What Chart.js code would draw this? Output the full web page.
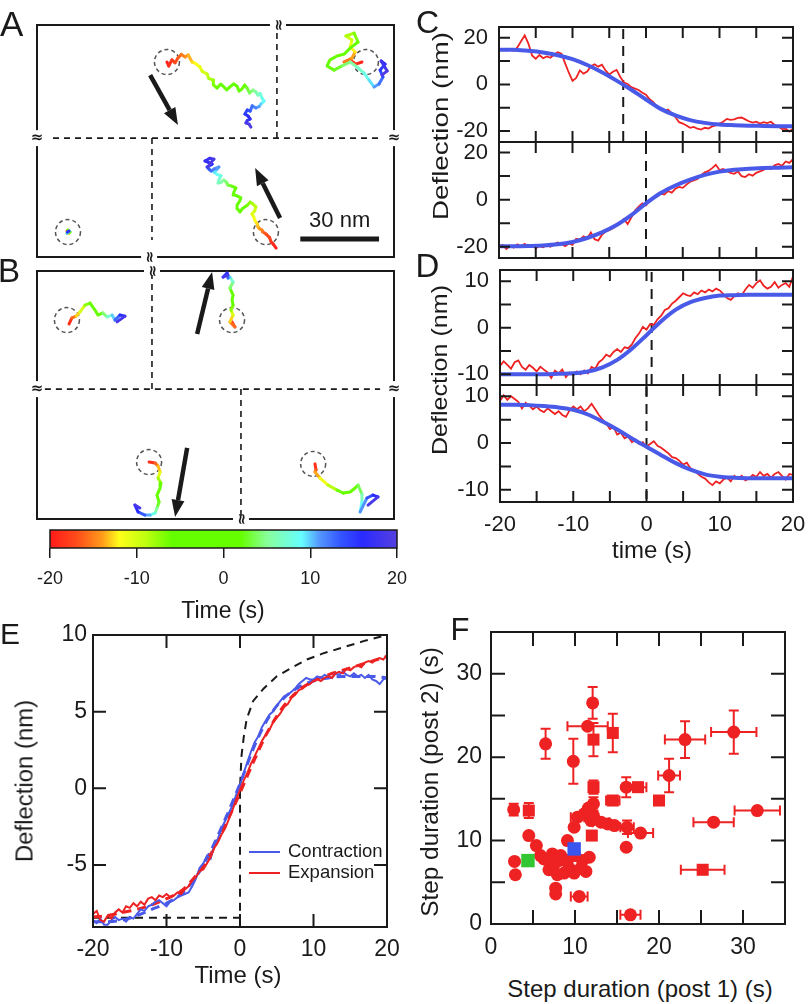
<!DOCTYPE html>
<html>
<head>
<meta charset="utf-8">
<script src="https://cdn.jsdelivr.net/npm/chart.js@4.4.1/dist/chart.umd.min.js"></script>
<style>
  body { margin: 0; background: #fff; }
  #fig { position: relative; width: 809px; height: 1004px; overflow: hidden; }
  #fig canvas { position: absolute; }
</style>
</head>
<body>
<div id="fig"></div>
<script>
// ---- colour scale (time, s) ----
const cbTimes = [-20, -17, -14, -12, -9, -6, 2, 5, 9, 11, 13.5, 16, 20];
const cbColors = ['#ff1a1a', '#ff4a1a', '#ff9a1a', '#ffff1a', '#c0ff10', '#66ff00', '#66ff00', '#88ff99', '#66ffff', '#5599ff', '#3355ff', '#2a2aff', '#5540e0'];
const cbTicks = [-20, -10, 0, 10, 20];

// ---- A / B: bead trajectories (nm) ----
const trajA1 = [[49.5,74.3],[50.2,72.8],[51.4,75.1],[52.6,74.0],[53.7,75.8],[55.0,77.2],[56.4,76.2],[57.6,77.0],[59.1,74.3],[60.2,73.9],[62.1,72.4],[62.9,70.8],[64.8,69.7],[65.4,68.1],[67.1,67.4],[67.2,65.6],[68.6,64.4],[70.0,65.9],[71.2,64.8],[72.3,63.7],[73.5,64.8],[74.9,66.0],[76.2,65.1],[77.0,63.2],[78.1,64.0],[79.1,65.5],[80.0,64.4],[81.0,62.5],[82.3,63.6],[83.4,62.9],[84.2,61.7],[85.0,62.3],[85.7,60.6],[86.5,59.4],[85.3,58.3],[84.6,57.3],[83.4,56.8],[82.0,57.6],[81.2,55.6],[80.1,56.0],[79.2,54.5],[80.4,53.7],[81.2,52.6],[80.1,52.0],[79.6,51.1],[80.8,50.6],[81.5,49.5]];
const trajA2 = [[123.8,74.3],[121.5,73.5],[119.3,75.1],[117.0,74.3],[120.0,75.8],[121.2,78.1],[119.3,80.0],[120.0,82.7],[117.7,84.2],[120.8,85.3],[122.3,81.9],[119.3,79.6],[117.0,77.3],[114.3,76.6],[111.6,75.1],[110.5,72.8],[113.2,71.2],[116.2,72.8],[119.3,74.3],[121.9,72.4],[124.6,70.1],[126.5,67.4],[128.4,64.8],[130.3,65.9],[131.8,68.6],[130.7,71.2],[132.6,73.5],[131.1,74.7],[133.4,70.9],[131.4,69.3]];
const trajA3 = [[11.4,9.9],[12.2,9.1],[11.8,10.3],[12.6,9.5],[11.4,9.1],[12.2,9.9],[11.6,9.5]];
const trajA4 = [[91.1,3.4],[90.0,4.9],[89.2,5.7],[88.6,7.4],[87.2,8.8],[86.0,9.6],[85.7,10.3],[84.9,10.7],[84.2,11.4],[83.9,12.6],[83.1,13.7],[82.6,15.2],[81.9,16.4],[82.9,17.5],[83.4,19.1],[82.0,20.4],[81.2,20.9],[80.1,19.7],[79.2,19.1],[78.3,18.5],[77.3,17.1],[76.5,18.3],[76.2,19.8],[77.1,21.1],[77.7,22.5],[76.0,23.4],[74.7,23.6],[75.1,25.0],[75.8,26.3],[74.2,27.0],[72.8,27.4],[72.0,28.6],[71.2,29.3],[70.0,28.4],[69.0,28.2],[69.4,29.7],[70.1,30.9],[68.6,31.5],[67.4,32.4],[68.5,33.3],[69.3,34.3],[67.6,33.6],[66.3,32.8],[65.5,33.5],[64.8,34.3],[66.0,35.0],[66.7,35.4],[65.2,36.1],[64.0,36.6],[65.8,37.6],[67.4,37.3],[66.1,35.8],[65.2,34.3]];
const trajB1 = [[12.2,74.3],[13.3,76.6],[14.9,77.3],[16.4,78.9],[18.3,81.5],[20.2,82.3],[22.1,79.6],[23.2,77.7],[25.1,78.5],[26.7,77.0],[28.6,77.7],[29.7,75.8],[31.6,77.7],[33.5,77.3],[30.5,75.1]];
const trajB2 = [[74.3,75.1],[75.4,73.2],[73.5,75.1],[74.7,77.7],[73.9,79.6],[74.7,81.5],[74.3,83.4],[74.7,85.3],[73.5,88.0],[74.7,90.3],[73.5,92.2],[72.8,91.8],[72.4,93.7],[70.9,92.2],[72.8,93.0]];
const trajB3 = [[42.7,21.7],[45.0,21.3],[46.1,20.2],[46.9,17.9],[46.1,15.6],[47.2,13.7],[46.9,11.8],[45.7,9.1],[46.5,6.5],[45.7,4.2],[45.0,2.3],[43.1,1.5],[41.1,1.5],[38.5,2.7],[37.3,5.3],[39.2,4.2]];
const trajB4 = [[105.9,21.0],[106.3,18.7],[105.9,17.9],[107.8,15.6],[110.9,12.9],[114.3,11.0],[116.6,9.9],[119.3,10.3],[121.2,11.8],[122.3,12.9],[123.8,9.5],[123.8,6.5],[123.1,2.7],[125.7,8.0],[128.0,9.1],[129.9,8.4],[126.1,5.3]];

const aDividers = [[6.1,45.3,131.8,45.3],[91.4,45.3,91.4,86.5],[43.8,45.3,43.8,6.5]];
const aCircles = [[49.5,74.3],[125.3,74.3],[11.8,9.5],[87.2,9.5]];
const aArrows = [[43.1,69.3,53.7,50.3],[92.6,14.9,83.1,33.9]];
const aBreaks = {top: 91.8, bottom: 42.7, side: 45.3};
const scaleBarEnd = [130.3, 6.9];
const scaleBarNm = 30;
const bDividers = [[3.0,49.5,130.7,49.5],[43.8,49.5,43.8,93.0],[77.7,49.5,77.7,0.8]];
const bCircles = [[11.4,75.8],[74.3,75.8],[42.7,21.7],[105.2,21.0]];
const bArrows = [[61.0,70.5,66.7,94.1],[57.2,27.1,52.6,0.8]];
const bBreaks = {top: 43.8, bottom: 77.7, side: 49.5};

// ---- C / D: deflection traces (nm) sampled every 0.5 s ----
const tGrid = [-20,-19.5,-19,-18.5,-18,-17.5,-17,-16.5,-16,-15.5,-15,-14.5,-14,-13.5,-13,-12.5,-12,-11.5,-11,-10.5,-10,-9.5,-9,-8.5,-8,-7.5,-7,-6.5,-6,-5.5,-5,-4.5,-4,-3.5,-3,-2.5,-2,-1.5,-1,-0.5,0,0.5,1,1.5,2,2.5,3,3.5,4,4.5,5,5.5,6,6.5,7,7.5,8,8.5,9,9.5,10,10.5,11,11.5,12,12.5,13,13.5,14,14.5,15,15.5,16,16.5,17,17.5,18,18.5,19,19.5,20];
const fitT = [-20,-18,-16,-14,-12,-10,-8,-6,-4,-2,0,2,4,6,8,10,12,14,16,18,20];

const c1Trace = [14.6,15.2,14.5,15.0,14.4,15.8,18.5,21.0,17.5,12.4,
  11.0,12.6,11.2,12.0,11.4,12.8,13.8,13.2,9.0,5.0,
  1.5,2.8,6.0,4.6,5.5,7.8,8.6,7.6,8.4,6.0,
  4.2,5.4,6.2,3.2,0.8,0.2,-1.2,-1.8,-2.4,-3.6,
  -4.4,-6.4,-7.6,-9.6,-10.4,-11.4,-10.8,-12.4,-14.0,-16.2,
  -16.8,-17.6,-18.6,-18.2,-19.0,-19.4,-18.6,-18.9,-18.0,-17.6,
  -16.8,-16.0,-14.8,-15.2,-15.0,-14.4,-14.2,-15.0,-15.8,-16.4,
  -16.0,-16.8,-16.2,-16.6,-16.0,-17.4,-18.0,-19.2,-19.0,-20.2,
  -19.0];
const c1Fit = [14.9,14.8,14.4,13.7,12.5,10.8,8.3,5.2,1.6,-2.3,-6.5,-10.5,-13.3,-15.3,-16.5,-17.2,-17.5,-17.7,-17.8,-17.9,-18.0];
const c1Step = -3.1;

const c2Trace = [-20.2,-19.2,-21.0,-19.6,-20.4,-19.0,-19.8,-18.8,-20.0,-19.4,
  -20.6,-19.8,-20.2,-19.4,-20.0,-19.0,-18.2,-18.8,-19.8,-18.6,
  -19.2,-16.6,-17.0,-15.6,-16.4,-14.0,-16.8,-17.4,-15.0,-13.6,
  -13.0,-12.2,-11.0,-10.2,-8.2,-10.4,-7.6,-4.6,-3.0,-1.6,
  -2.4,-0.4,0.8,1.4,2.6,2.2,3.6,3.0,4.6,5.4,
  5.0,6.4,7.6,8.2,8.8,10.4,11.6,12.2,13.4,14.8,
  12.6,13.0,12.2,11.4,11.0,12.0,10.0,9.6,10.8,10.2,
  11.4,12.0,12.6,13.8,13.0,14.6,15.2,14.4,16.2,15.6,
  17.2];
const c2Fit = [-19.8,-19.8,-19.7,-19.5,-19.0,-18.0,-16.3,-13.9,-10.8,-6.6,-1.6,2.8,6.0,8.5,10.5,11.9,12.7,13.1,13.4,13.6,13.8];
const c2Step = 0;

const d1Trace = [-8.2,-7.2,-8.0,-8.8,-7.4,-7.0,-8.4,-9.0,-8.0,-8.6,
  -9.4,-8.4,-9.0,-9.6,-10.8,-9.2,-9.8,-9.0,-10.6,-9.6,
  -10.2,-9.4,-10.0,-9.2,-9.8,-8.4,-8.8,-7.4,-6.8,-5.8,
  -6.2,-5.2,-4.6,-5.2,-4.2,-4.4,-3.6,-2.2,-1.2,0.2,
  -0.4,0.8,0.6,1.8,2.6,3.8,4.2,5.2,5.8,6.6,
  7.4,7.0,6.8,7.6,7.2,8.0,7.6,8.2,7.8,8.4,
  8.0,7.2,6.4,6.0,6.8,7.4,7.0,8.2,9.2,8.6,
  9.6,10.2,9.0,8.4,8.8,9.8,8.6,9.2,9.6,8.8,
  11.0];
const d1Fit = [-10.0,-10.0,-10.0,-10.0,-9.9,-9.8,-9.4,-8.5,-6.9,-4.5,-1.6,1.4,3.9,5.5,6.4,6.9,7.0,7.1,7.1,7.1,7.1];
const d1Step = 0.7;

const d2Trace = [9.0,10.2,9.2,10.0,9.4,8.8,7.4,8.6,8.0,7.2,
  7.8,7.0,6.6,7.4,6.8,6.2,6.8,6.0,5.6,7.0,
  7.8,7.2,7.8,6.8,7.4,8.4,7.2,6.0,5.0,4.2,
  3.0,3.4,1.8,2.2,1.0,1.4,0.2,0.6,-0.2,0.2,
  -0.8,-0.2,0.4,-0.6,-1.0,-1.6,-2.2,-3.0,-3.2,-3.8,
  -4.6,-4.2,-5.4,-5.8,-6.6,-7.2,-7.6,-8.4,-9.0,-8.2,
  -8.6,-7.8,-7.4,-8.2,-7.0,-7.6,-7.0,-8.0,-7.6,-6.8,
  -7.2,-6.2,-7.0,-6.6,-7.4,-6.6,-6.2,-7.0,-7.8,-6.6,
  -6.8];
const d2Fit = [8.2,8.2,8.1,7.9,7.6,7.1,6.1,4.6,2.9,1.0,-0.8,-2.6,-4.3,-5.7,-6.7,-7.2,-7.4,-7.5,-7.5,-7.5,-7.5];
const d2Step = 0;

// ---- E: averaged steps (nm) ----
const eContraction = [-8.6,-8.8,-8.5,-8.9,-8.9,-8.6,-8.4,-8.6,-8.5,-8.7,
  -8.4,-8.5,-8.2,-7.9,-8.0,-7.7,-7.6,-7.4,-7.3,-7.5,
  -7.7,-7.4,-7.3,-7.1,-7.0,-6.9,-6.8,-6.4,-5.9,-5.2,
  -4.9,-4.4,-4.6,-3.7,-3.3,-2.6,-2.1,-1.6,-1.1,-0.4,
  0.2,1.0,1.7,2.4,3.0,3.4,4.0,4.4,4.8,5.0,
  5.4,5.7,6.0,6.1,6.3,6.5,6.8,7.0,7.2,7.1,
  7.1,7.3,7.2,7.4,7.3,7.2,7.5,7.4,7.6,7.4,
  7.3,7.5,7.3,7.4,7.2,7.4,7.1,7.0,6.8,7.1,
  7.2];
const eExpansion = [-8.2,-8.0,-8.6,-8.7,-8.3,-8.5,-8.1,-7.9,-8.1,-7.7,
  -7.8,-7.5,-7.7,-7.4,-7.6,-7.2,-7.1,-7.3,-7.0,-7.1,
  -6.9,-7.1,-7.0,-6.8,-6.9,-6.6,-6.4,-6.0,-5.8,-5.4,
  -5.3,-4.9,-4.5,-3.9,-3.5,-3.0,-2.6,-2.0,-1.4,-0.7,
  -0.1,0.5,1.0,1.6,2.1,2.6,3.1,3.5,3.8,4.3,
  4.6,4.9,5.3,5.5,5.9,6.1,6.4,6.5,6.7,6.8,
  7.0,7.1,7.0,7.2,7.3,7.2,7.5,7.6,7.5,7.8,
  7.7,7.9,8.0,7.9,8.2,8.3,8.2,8.4,8.5,8.4,
  8.7];
const eConFit = [-8.7,-8.7,-8.6,-8.3,-7.9,-7.5,-6.9,-5.8,-4.1,-2.0,0.3,2.8,4.7,5.9,6.6,7.0,7.2,7.3,7.3,7.3,7.2];
const eExpFit = [-8.4,-8.3,-8.1,-7.9,-7.6,-7.2,-6.7,-5.7,-4.3,-2.4,-0.3,1.9,3.9,5.4,6.4,7.0,7.4,7.7,8.0,8.3,8.6];
const modelT = [-20, 0, 0, 0.2, 0.5, 0.9, 1.8, 3.2, 5.0, 6.8, 9.1, 11.3, 14.1, 16.8, 20];
const modelY = [-8.45, -8.45, 0.0, 2.1, 3.3, 4.5, 5.7, 6.5, 7.3, 7.8, 8.4, 8.8, 9.2, 9.6, 10.0];

// ---- F: step durations (s) ----
const fX = [2.7,4.5,4.5,5.4,2.8,2.9,6.5,9.8,12.1,11.5,12.2,14.5,12.2,12.2,14.5,16.1,17.5,20.0,21.2,23.1,28.9,31.7,26.5,25.2,16.2,17.8,16.1,16.6,10.5,7.7,7.7,9.1,9.9,10.3,11.1,11.9,13.1,13.9,14.7,12.0,11.7,11.3,6.3,6.9,7.5,8.1,8.7,9.3,9.9,10.7,7.3,8.3,9.1,10.9,7.9,5.9,6.9,11.6,12.2,10.0];
const fY = [13.7,13.6,10.6,9.4,7.5,5.9,21.6,19.5,26.5,23.7,22.1,22.9,16.4,14.4,14.8,16.4,16.4,14.8,17.8,22.1,23.0,13.6,12.2,6.5,11.6,10.9,9.2,1.1,3.3,4.3,3.6,10.0,11.6,12.8,13.2,12.4,12.2,12.0,11.8,10.6,8.0,6.3,7.8,6.5,7.1,7.6,6.1,6.7,6.1,6.7,8.4,8.2,7.6,7.6,5.9,8.2,7.8,13.9,13.0,8.2];
const fXErr = [0,0,0,0,0,0,0,0,0,2.4,0,0,0,0,0.8,0,1.0,0.6,1.3,2.4,2.7,2.7,2.4,2.6,0.8,1.5,0,1.2,1.0,0,0,0,0,0.8,0,0,1.0,0,0,0,0,0,0,0,0,0,0,0,0,0,0,0,0,0,0,0,0,0,0,0];
const fYErr = [0.7,0.9,0,0,0,0,1.8,2.7,1.9,0,2.0,2.3,0.8,0.8,0,1.2,0,0,2.0,2.2,2.6,0,0,0,0.8,0,0,0,0,0,0,0,0,0,0,0,0,0,0,0,0,0,0,0,0,0,0,0,0,0,0,0,0,0,0,0,0,0,0,0];
const fShape = ['c','s','c','c','c','c','c','c','c','c','s','s','s','c','s','c','s','s','c','c','c','c','c','s','c','c','c','c','c','c','c','c','c','c','c','c','c','c','c','s','c','c','c','c','c','c','c','c','c','c','c','c','c','c','c','c','c','c','c','c'];
const fGreen = [4.4, 7.6];
const fBlue = [9.9, 9.0];

// ---- setup ----
const fig = document.getElementById('fig');
const FONT = '"Liberation Sans", Arial, Helvetica, sans-serif';
const INK = '#1a1a1a';
const RED = '#ee2222';
const BLUE = '#4a5ae8';
Chart.defaults.font.family = FONT;
Chart.defaults.color = INK;

function hexRgb(h) { return [1, 3, 5].map(i => parseInt(h.slice(i, i + 2), 16)); }
function timeColor(t) {
  for (let i = 1; i < cbTimes.length; i++) {
    if (t <= cbTimes[i]) {
      const f = (t - cbTimes[i - 1]) / (cbTimes[i] - cbTimes[i - 1]);
      const a = hexRgb(cbColors[i - 1]), b = hexRgb(cbColors[i]);
      return 'rgb(' + a.map((v, k) => Math.round(v + (b[k] - v) * f)).join(',') + ')';
    }
  }
  return cbColors[cbColors.length - 1];
}
const fixTicks = vals => s => { s.ticks = vals.map(v => ({value: v})); };
const pts = (xs, ys) => xs.map((x, i) => ({x: x, y: ys[i]}));

function addText(text, x, y, size, rot, sx) {
  const d = document.createElement('div');
  d.textContent = text;
  d.style.cssText = 'position:absolute;white-space:nowrap;line-height:1;color:' + INK +
    ';font-family:' + FONT + ';font-size:' + size + 'px;left:' + x + 'px;top:' + y + 'px;';
  if (rot !== undefined) d.style.transform = 'translate(-50%,-50%) rotate(' + rot + 'deg) scaleX(' + (sx || 1) + ')';
  fig.appendChild(d);
}

// create a chart whose plot area lands exactly on box (page px)
function makeChart(box, pad, config) {
  const W = box.r - box.l + pad.l + pad.r, H = box.b - box.t + pad.t + pad.b;
  const cv = document.createElement('canvas');
  cv.width = W; cv.height = H;
  cv.style.width = W + 'px'; cv.style.height = H + 'px';
  fig.appendChild(cv);
  const o = config.options;
  o.responsive = false; o.maintainAspectRatio = false; o.animation = false; o.events = [];
  o.plugins = Object.assign({legend: {display: false}, tooltip: {enabled: false}}, o.plugins || {});
  const xs = o.scales.x, ys = o.scales.y;
  const xOn = xs.display !== false, yOn = ys.display !== false;
  o.layout = {padding: {left: yOn ? 0 : pad.l, right: pad.r, top: pad.t, bottom: xOn ? 0 : pad.b}};
  if (yOn) ys.afterFit = s => { s.width = pad.l; };
  if (xOn) xs.afterFit = s => { s.height = pad.b; };
  const chart = new Chart(cv, config);
  let a = chart.chartArea;
  const dw = (box.r - box.l) - (a.right - a.left), dh = (box.b - box.t) - (a.bottom - a.top);
  if (Math.abs(dw) > 0.5 || Math.abs(dh) > 0.5) {
    chart.resize(W + dw, H + dh);
    a = chart.chartArea;
  }
  cv.style.left = (box.l - a.left) + 'px';
  cv.style.top = (box.t - a.top) + 'px';
  return chart;
}

// frame with inward ticks on all four sides, plus dashed step markers
const framePlugin = {
  id: 'frame',
  beforeDatasetsDraw(chart, args, o) {
    const {ctx, chartArea: a, scales: {x}} = chart;
    ctx.save();
    ctx.strokeStyle = INK; ctx.lineWidth = 2; ctx.setLineDash([10, 7]);
    (o.steps || []).forEach(t => {
      const px = x.getPixelForValue(t);
      ctx.beginPath(); ctx.moveTo(px, a.top + 2); ctx.lineTo(px, a.bottom); ctx.stroke();
    });
    ctx.restore();
  },
  afterDatasetsDraw(chart, args, o) {
    const {ctx, chartArea: a, scales: {x, y}} = chart;
    ctx.save();
    ctx.strokeStyle = INK; ctx.lineWidth = 2;
    ctx.strokeRect(a.left, a.top, a.right - a.left, a.bottom - a.top);
    ctx.beginPath();
    (o.xt || []).forEach(v => {
      const p = x.getPixelForValue(v);
      ctx.moveTo(p, a.bottom); ctx.lineTo(p, a.bottom - o.len);
      ctx.moveTo(p, a.top); ctx.lineTo(p, a.top + o.len);
    });
    (o.yt || []).forEach(v => {
      const p = y.getPixelForValue(v);
      ctx.moveTo(a.left, p); ctx.lineTo(a.left + o.len, p);
      ctx.moveTo(a.right, p); ctx.lineTo(a.right - o.len, p);
    });
    ctx.stroke();
    ctx.restore();
  }
};

// A/B decorations: frame, broken axes, dividers, circles, arrows, scale bar
function drawArrow(ctx, x0, y0, x1, y1) {
  const ang = Math.atan2(y1 - y0, x1 - x0), hl = 17, hw = 6.5;
  const bx = x1 - hl * Math.cos(ang), by = y1 - hl * Math.sin(ang);
  ctx.lineWidth = 4.5;
  ctx.beginPath(); ctx.moveTo(x0, y0); ctx.lineTo(bx, by); ctx.stroke();
  ctx.beginPath(); ctx.moveTo(x1, y1);
  ctx.lineTo(bx + hw * Math.sin(ang), by - hw * Math.cos(ang));
  ctx.lineTo(bx - hw * Math.sin(ang), by + hw * Math.cos(ang));
  ctx.closePath(); ctx.fill();
}
const decoPlugin = {
  id: 'deco',
  beforeDatasetsDraw(chart, args, o) {
    const {ctx, chartArea: a, scales: {x, y}} = chart;
    ctx.save();
    ctx.strokeStyle = INK; ctx.lineWidth = 2;
    ctx.strokeRect(a.left, a.top, a.right - a.left, a.bottom - a.top);
    ctx.setLineDash([6, 5]); ctx.lineWidth = 1.6;
    o.dividers.forEach(d => {
      ctx.beginPath();
      ctx.moveTo(x.getPixelForValue(d[0]), y.getPixelForValue(d[1]));
      ctx.lineTo(x.getPixelForValue(d[2]), y.getPixelForValue(d[3]));
      ctx.stroke();
    });
    ctx.strokeStyle = '#555'; ctx.setLineDash([4, 3]); ctx.lineWidth = 1.5;
    o.circles.forEach(c => {
      ctx.beginPath();
      ctx.arc(x.getPixelForValue(c[0]), y.getPixelForValue(c[1]), 12.5, 0, 2 * Math.PI);
      ctx.stroke();
    });
    ctx.setLineDash([]);
    const brk = (px, py, rotated) => {
      ctx.fillStyle = '#fff';
      if (rotated) ctx.fillRect(px - 8, py - 3, 16, 6); else ctx.fillRect(px - 3, py - 8, 6, 16);
      ctx.save(); ctx.translate(px, py); if (rotated) ctx.rotate(Math.PI / 2);
      ctx.fillStyle = INK; ctx.font = 'bold 15px "DejaVu Sans"';
      ctx.textAlign = 'center'; ctx.textBaseline = 'middle';
      ctx.fillText('\u2248', 0, 0);
      ctx.restore();
    };
    brk(x.getPixelForValue(o.breaks.top), a.top, true);
    brk(x.getPixelForValue(o.breaks.bottom), a.bottom, true);
    brk(a.left, y.getPixelForValue(o.breaks.side), false);
    brk(a.right, y.getPixelForValue(o.breaks.side), false);
    ctx.restore();
  },
  afterDatasetsDraw(chart, args, o) {
    const {ctx, scales: {x, y}} = chart;
    ctx.save();
    ctx.strokeStyle = INK; ctx.fillStyle = INK;
    o.arrows.forEach(r => drawArrow(ctx, x.getPixelForValue(r[0]), y.getPixelForValue(r[1]),
      x.getPixelForValue(r[2]), y.getPixelForValue(r[3])));
    if (o.bar) {
      const x1 = x.getPixelForValue(o.bar[0]), x0 = x.getPixelForValue(o.bar[0] - o.barLen);
      const py = y.getPixelForValue(o.bar[1]);
      ctx.lineWidth = 5;
      ctx.beginPath(); ctx.moveTo(x0, py); ctx.lineTo(x1, py); ctx.stroke();
      ctx.font = '22px ' + FONT; ctx.textAlign = 'center'; ctx.textBaseline = 'alphabetic';
      ctx.fillText(o.barLen + ' nm', (x0 + x1) / 2, py - 12);
    }
    ctx.restore();
  }
};

function trajPanel(box, yMax, trajs, deco) {
  return makeChart(box, {l: 14, t: 14, r: 14, b: 14}, {
    type: 'scatter',
    data: {datasets: trajs.map(tr => ({
      data: tr.map(p => ({x: p[0], y: p[1]})),
      showLine: true, pointRadius: 0, borderWidth: 3, borderColor: cbColors[0],
      borderJoinStyle: 'round', borderCapStyle: 'round',
      segment: {borderColor: c => timeColor(-20 + 40 * (c.p0DataIndex + 0.5) / (tr.length - 1))}
    }))},
    options: {
      scales: {x: {display: false, min: 0, max: 136}, y: {display: false, min: 0, max: yMax}},
      plugins: {deco: deco}
    },
    plugins: [decoPlugin]
  });
}

trajPanel({l: 37, t: 25, r: 394, b: 257}, 88.4, [trajA1, trajA2, trajA3, trajA4],
  {dividers: aDividers, circles: aCircles, arrows: aArrows, breaks: aBreaks, bar: scaleBarEnd, barLen: scaleBarNm});
trajPanel({l: 37, t: 271, r: 394, b: 519}, 94.5, [trajB1, trajB2, trajB3, trajB4],
  {dividers: bDividers, circles: bCircles, arrows: bArrows, breaks: bBreaks});

// colour bar
const cbarPlugin = {
  id: 'cbar',
  beforeDatasetsDraw(chart) {
    const {ctx, chartArea: a, scales: {x}} = chart;
    const g = ctx.createLinearGradient(a.left, 0, a.right, 0);
    cbTimes.forEach((t, i) => g.addColorStop((x.getPixelForValue(t) - a.left) / (a.right - a.left), cbColors[i]));
    ctx.save();
    ctx.fillStyle = g; ctx.fillRect(a.left, a.top, a.right - a.left, a.bottom - a.top);
    ctx.strokeStyle = INK; ctx.lineWidth = 1.5;
    ctx.strokeRect(a.left, a.top, a.right - a.left, a.bottom - a.top);
    ctx.restore();
  }
};
makeChart({l: 50, t: 530, r: 397, b: 548}, {l: 32, t: 4, r: 32, b: 48}, {
  type: 'scatter',
  data: {datasets: []},
  options: {
    scales: {
      x: {type: 'linear', min: -20, max: 20,
        grid: {drawOnChartArea: false, drawTicks: true, tickLength: 10, color: INK, lineWidth: 1.5},
        border: {display: false},
        ticks: {font: {size: 18}, padding: 10, maxRotation: 0, autoSkip: false},
        afterBuildTicks: fixTicks(cbTicks)},
      y: {display: false, min: 0, max: 1}
    },
    plugins: {cbar: {}}
  },
  plugins: [cbarPlugin]
});

// C / D  (dataset 0 is drawn on top: blue fit over red trace)
const cdMarksX = [-15, -10, -5, 0, 5, 10, 15];
const timeLabels = [-20, -10, 0, 10, 20];
function tracePanel(box, trace, fit, step, yMin, yMax, yLabels, yMarks, showX) {
  return makeChart(box, {l: 62, t: 30, r: 32, b: showX ? 42 : 30}, {
    type: 'scatter',
    data: {datasets: [
      {data: pts(fitT, fit), showLine: true, borderColor: BLUE, borderWidth: 4, pointRadius: 0, cubicInterpolationMode: 'monotone'},
      {data: pts(tGrid, trace), showLine: true, borderColor: RED, borderWidth: 1.8, pointRadius: 0}
    ]},
    options: {
      scales: {
        x: {type: 'linear', min: -20, max: 20, display: showX,
          grid: {display: false, drawTicks: false}, border: {display: false},
          ticks: {font: {size: 22}, padding: 10, maxRotation: 0, autoSkip: false},
          afterBuildTicks: fixTicks(timeLabels)},
        y: {type: 'linear', min: yMin, max: yMax,
          grid: {display: false, drawTicks: false}, border: {display: false},
          ticks: {font: {size: 22}, padding: 11, autoSkip: false},
          afterBuildTicks: fixTicks(yLabels)}
      },
      plugins: {frame: {xt: cdMarksX, yt: yMarks, len: 11, steps: [step]}}
    },
    plugins: [framePlugin]
  });
}
tracePanel({l: 499, t: 27, r: 793, b: 142}, c1Trace, c1Fit, c1Step, -24.7, 24.6, [-20, 0, 20], [-20, -10, 0, 10, 20], false);
tracePanel({l: 499, t: 142, r: 793, b: 258}, c2Trace, c2Fit, c2Step, -24.8, 24.5, [-20, 0, 20], [-20, -10, 0, 10, 20], false);
tracePanel({l: 500, t: 270, r: 793, b: 385}, d1Trace, d1Fit, d1Step, -12.3, 12.4, [-10, 0, 10], [-10, -5, 0, 5, 10], false);
tracePanel({l: 500, t: 385, r: 793, b: 502}, d2Trace, d2Fit, d2Step, -12.6, 12.4, [-10, 0, 10], [-10, -5, 0, 5, 10], true);

// E
const legendPlugin = {
  id: 'inLegend',
  afterDatasetsDraw(chart, args, o) {
    const {ctx, chartArea: a} = chart;
    ctx.save();
    ctx.font = '18.5px ' + FONT; ctx.textBaseline = 'middle'; ctx.fillStyle = INK;
    o.items.forEach((di, i) => {
      const ds = chart.data.datasets[di];
      const yy = a.top + o.y + i * o.dy;
      ctx.strokeStyle = ds.borderColor; ctx.lineWidth = 2;
      ctx.beginPath(); ctx.moveTo(a.left + o.x, yy); ctx.lineTo(a.left + o.x + o.w, yy); ctx.stroke();
      ctx.fillText(ds.label, a.left + o.x + o.w + 8, yy);
    });
    ctx.restore();
  }
};
makeChart({l: 93, t: 635, r: 387, b: 927}, {l: 60, t: 30, r: 32, b: 42}, {
  type: 'scatter',
  data: {datasets: [
    {label: 'Expansion', data: pts(tGrid, eExpansion), showLine: true, borderColor: RED, borderWidth: 2, pointRadius: 0},
    {label: 'Contraction', data: pts(tGrid, eContraction), showLine: true, borderColor: BLUE, borderWidth: 2, pointRadius: 0},
    {data: pts(fitT, eExpFit), showLine: true, borderColor: RED, borderWidth: 3, borderDash: [9, 6], pointRadius: 0, cubicInterpolationMode: 'monotone'},
    {data: pts(fitT, eConFit), showLine: true, borderColor: BLUE, borderWidth: 3, borderDash: [9, 6], pointRadius: 0, cubicInterpolationMode: 'monotone'},
    {data: pts(modelT, modelY), showLine: true, borderColor: INK, borderWidth: 2, borderDash: [8, 6], pointRadius: 0}
  ]},
  options: {
    scales: {
      x: {type: 'linear', min: -20, max: 20, grid: {display: false, drawTicks: false}, border: {display: false},
        ticks: {font: {size: 23}, padding: 9, maxRotation: 0, autoSkip: false}, afterBuildTicks: fixTicks(timeLabels)},
      y: {type: 'linear', min: -9.05, max: 10, grid: {display: false, drawTicks: false}, border: {display: false},
        ticks: {font: {size: 23}, padding: 6, autoSkip: false}, afterBuildTicks: fixTicks([-5, 0, 5, 10])}
    },
    plugins: {
      frame: {xt: [-10, 0, 10], yt: [-5, 0, 5], len: 13},
      inLegend: {items: [1, 0], x: 156, y: 217, dy: 21, w: 31}
    }
  },
  plugins: [framePlugin, legendPlugin]
});

// F  (dataset 0 is drawn on top: coloured squares over red points)
const errPlugin = {
  id: 'errBars',
  beforeDatasetsDraw(chart) {
    const {ctx, scales: {x, y}} = chart;
    ctx.save();
    ctx.strokeStyle = RED; ctx.lineWidth = 2;
    ctx.beginPath();
    fX.forEach((v, i) => {
      const px = x.getPixelForValue(v), py = y.getPixelForValue(fY[i]);
      if (fXErr[i]) {
        const l = x.getPixelForValue(v - fXErr[i]), r = x.getPixelForValue(v + fXErr[i]);
        ctx.moveTo(l, py); ctx.lineTo(r, py);
        ctx.moveTo(l, py - 5); ctx.lineTo(l, py + 5);
        ctx.moveTo(r, py - 5); ctx.lineTo(r, py + 5);
      }
      if (fYErr[i]) {
        const t = y.getPixelForValue(fY[i] + fYErr[i]), b = y.getPixelForValue(fY[i] - fYErr[i]);
        ctx.moveTo(px, t); ctx.lineTo(px, b);
        ctx.moveTo(px - 5, t); ctx.lineTo(px + 5, t);
        ctx.moveTo(px - 5, b); ctx.lineTo(px + 5, b);
      }
    });
    ctx.stroke();
    ctx.restore();
  }
};
const pick = s => fX.map((v, i) => ({x: v, y: fY[i], s: fShape[i]})).filter(p => p.s === s);
makeChart({l: 491, t: 632, r: 785, b: 924}, {l: 58, t: 30, r: 32, b: 42}, {
  type: 'scatter',
  data: {datasets: [
    {data: [{x: fBlue[0], y: fBlue[1]}], pointStyle: 'rect', pointRadius: 9.5, backgroundColor: '#3a55ee', borderWidth: 0},
    {data: [{x: fGreen[0], y: fGreen[1]}], pointStyle: 'rect', pointRadius: 9.5, backgroundColor: '#33c633', borderWidth: 0},
    {data: pick('s'), pointStyle: 'rect', pointRadius: 8.5, backgroundColor: RED, borderColor: RED, borderWidth: 0},
    {data: pick('c'), pointStyle: 'circle', pointRadius: 6.5, backgroundColor: RED, borderColor: RED, borderWidth: 0}
  ]},
  options: {
    scales: {
      x: {type: 'linear', min: 0, max: 35, grid: {display: false, drawTicks: false}, border: {display: false},
        ticks: {font: {size: 23}, padding: 10, maxRotation: 0, autoSkip: false}, afterBuildTicks: fixTicks([0, 10, 20, 30])},
      y: {type: 'linear', min: 0, max: 35, grid: {display: false, drawTicks: false}, border: {display: false},
        ticks: {font: {size: 23}, padding: 9, autoSkip: false}, afterBuildTicks: fixTicks([0, 10, 20, 30])}
    },
    plugins: {frame: {xt: [5, 10, 15, 20, 25, 30], yt: [5, 10, 15, 20, 25, 30], len: 14}}
  },
  plugins: [framePlugin, errPlugin]
});

// ---- text ----
addText('A', 0, 5.5, 35);
addText('B', -2, 254, 33);
addText('C', 416, 6, 32);
addText('D', 415.5, 249, 33);
addText('E', 0, 619, 30);
addText('F', 450.5, 614, 31);
addText('Deflection (nm)', 441, 126, 22, -90, 1.26);
addText('Deflection (nm)', 440, 370, 22, -90, 1.14);
addText('time (s)', 652, 550, 24, 0);
addText('Time (s)', 223, 610, 23, 0);
addText('Deflection (nm)', 25, 781, 23, -90, 1.04);
addText('Time (s)', 238, 975, 24, 0);
addText('Step duration (post 2) (s)', 430, 782, 23, -90, 1.06);
addText('Step duration (post 1) (s)', 640, 989, 24, 0);
</script>
</body>
</html>
